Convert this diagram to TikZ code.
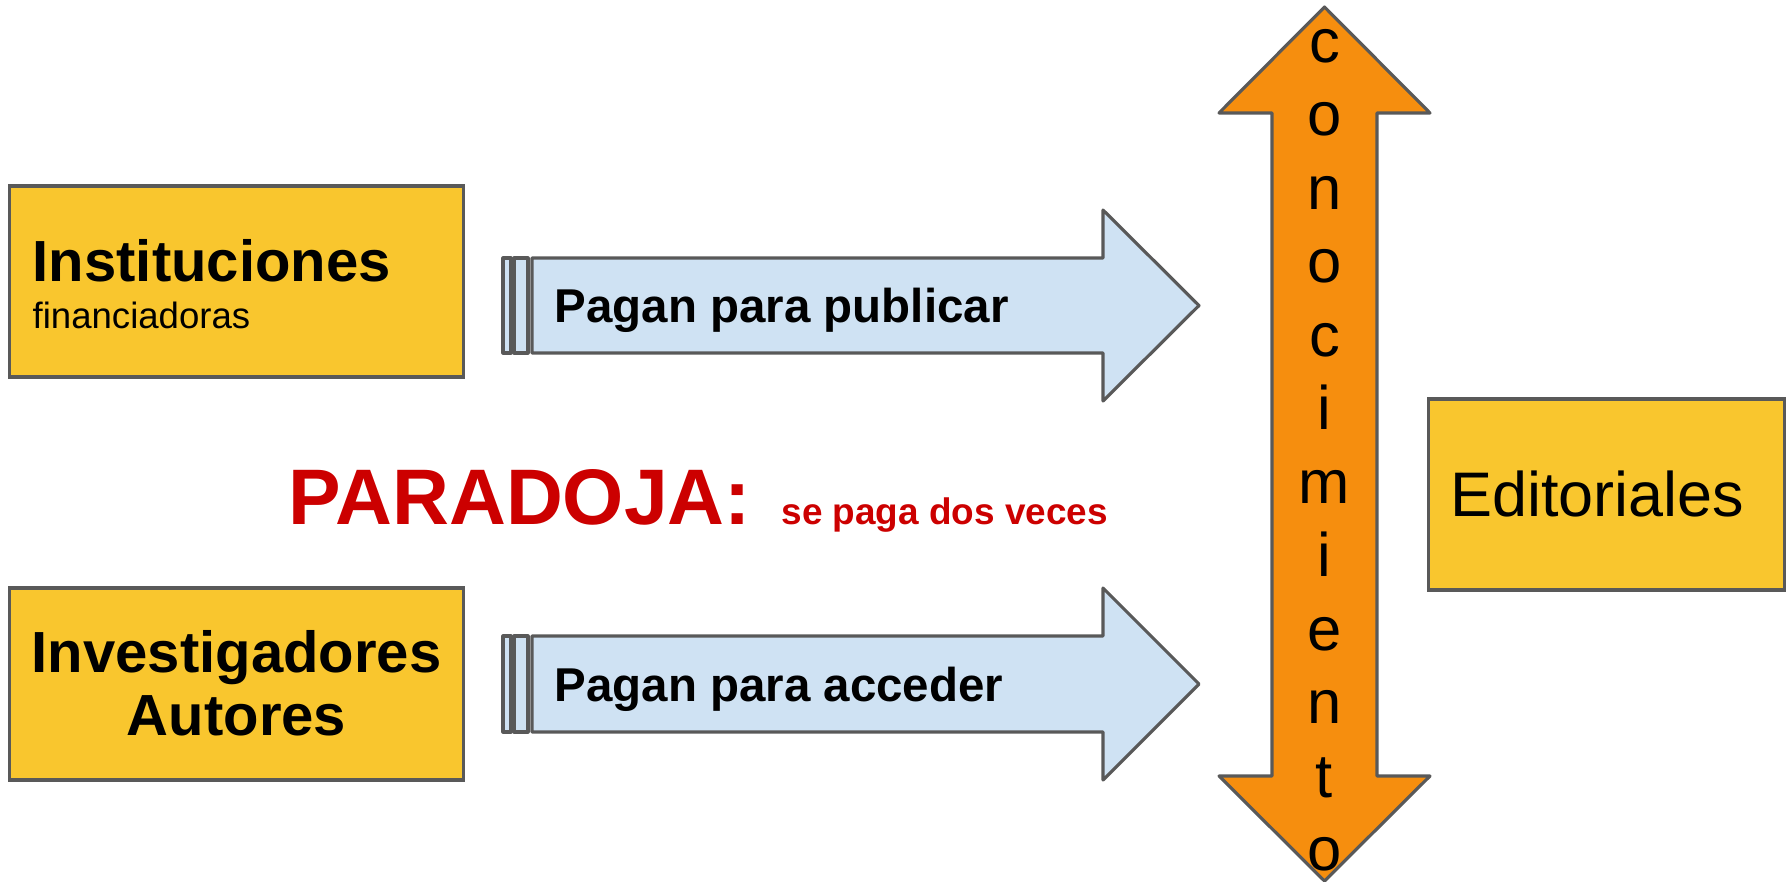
\documentclass[tikz,border=0pt]{standalone}
\usepackage{fontspec}
\setmainfont{Liberation Sans}
\usetikzlibrary{positioning}
\definecolor{boxyellow}{RGB}{249,198,46}
\definecolor{payblue}{RGB}{207,226,243}
\definecolor{knoworange}{RGB}{246,142,14}
\definecolor{edgegray}{RGB}{89,89,89}
\definecolor{paradoxred}{RGB}{204,0,0}

\tikzset{
  actor/.style={draw=edgegray, fill=boxyellow, line width=0.9pt, inner sep=0pt},
  payshape/.style={draw=edgegray, fill=payblue, line width=0.9pt, line join=round},
  knowshape/.style={draw=edgegray, fill=knoworange, line width=0.9pt, line join=round},
  label/.style={inner sep=0pt, text=black},
  knowletter/.style={inner sep=0pt, anchor=base, font=\fontsize{17.5}{21}\selectfont}
}

\begin{document}
\begin{tikzpicture}[x=0.01cm, y=-0.01cm]
    \useasboundingbox (0,0) rectangle (1787,881);

    % Actors
    \node[actor, minimum width=4.53cm, minimum height=1.91cm] (inst) at (236.5,281.5) {};
    \node[actor, minimum width=4.53cm, minimum height=1.92cm] (inv) at (236.5,684) {};
    \node[actor, minimum width=3.55cm, minimum height=1.91cm] (edit) at (1606.5,494.5) {};

    % Payment arrows
    \draw[payshape] (503,258) rectangle (511,353);
    \draw[payshape] (514,258) rectangle (528,353);
    \draw[payshape] (532,258) -- (1103,258) -- (1103,210) -- (1199,305.5)
        -- (1103,401) -- (1103,353) -- (532,353) -- cycle;

    \draw[payshape] (503,636) rectangle (511,732);
    \draw[payshape] (514,636) rectangle (528,732);
    \draw[payshape] (532,636) -- (1103,636) -- (1103,588) -- (1199,684)
        -- (1103,780) -- (1103,732) -- (532,732) -- cycle;

    % Knowledge arrow
    \draw[knowshape] (1324.5,7) -- (1430,113) -- (1377,113) -- (1377,776)
        -- (1430,776) -- (1324.5,881) -- (1219,776) -- (1272,776)
        -- (1272,113) -- (1219,113) -- cycle;
    \foreach \ch [count=\k from 0] in {c,o,n,o,c,i,m,i,e,n,t,o}
        \node[knowletter] (know\k) at (1324.5,62+73.5*\k) {\ch};

    % Labels
    \node[label, anchor=base west, font=\bfseries\fontsize{16.5}{20}\selectfont] (insttitle) at (32,281) {Instituciones};
    \node[label, anchor=base west, font=\fontsize{10.4}{12}\selectfont] (instsub) at (32,328) {financiadoras};
    \node[label, anchor=base, font=\bfseries\fontsize{16.5}{20}\selectfont] (invtitle) at (236.5,672) {Investigadores};
    \node[label, anchor=base, font=\bfseries\fontsize{16.5}{20}\selectfont] (invsub) at (236.5,735) {Autores};
    \node[label, anchor=base, font=\fontsize{17.9}{21}\selectfont] (edittitle) at (1597,516) {Editoriales};

    \node[label, anchor=base west, font=\bfseries\fontsize{13.5}{16}\selectfont] (pubtext) at (554,322) {Pagan para publicar};
    \node[label, anchor=base west, font=\bfseries\fontsize{13.5}{16}\selectfont] (acctext) at (554,701) {Pagan para acceder};

    % Paradox
    \node[label, anchor=base west, text=paradoxred, font=\bfseries\fontsize{22.4}{26}\selectfont] (paradox) at (288,524) {PARADOJA:};
    \node[label, base right=0.29cm of paradox, text=paradoxred, font=\bfseries\fontsize{10.5}{12}\selectfont] (twice) {se paga dos veces};
\end{tikzpicture}
\end{document}
